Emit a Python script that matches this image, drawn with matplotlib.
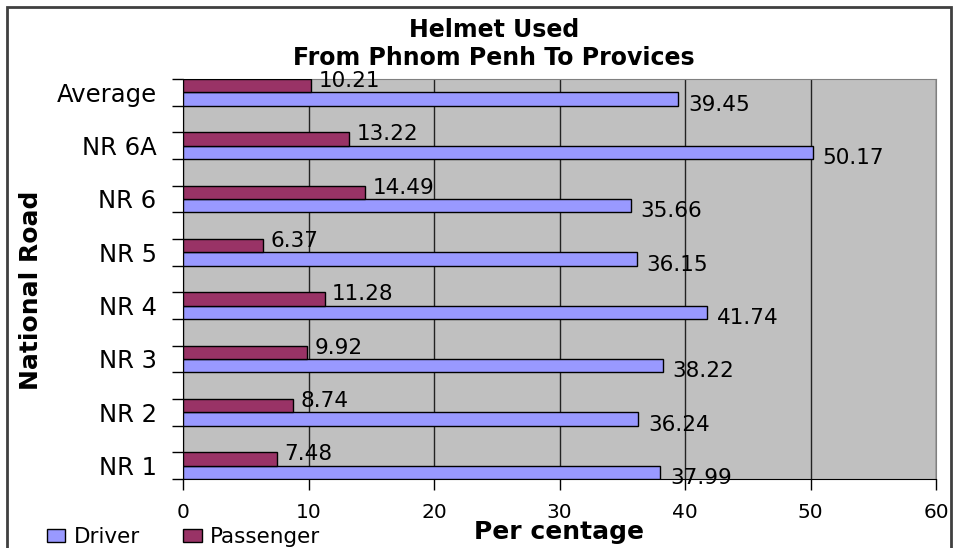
import matplotlib.pyplot as plt
from matplotlib.patches import Patch, Rectangle
import numpy as np

roads = ["NR 1", "NR 2", "NR 3", "NR 4", "NR 5", "NR 6", "NR 6A", "Average"]
driver = [37.99, 36.24, 38.22, 41.74, 36.15, 35.66, 50.17, 39.45]
passenger = [7.48, 8.74, 9.92, 11.28, 6.37, 14.49, 13.22, 10.21]

driver_color = "#9999FF"
passenger_color = "#993366"

W, H = 959, 548
fig = plt.figure(figsize=(W / 100, H / 100), dpi=100)

# outer chart frame
fig.patches.append(Rectangle((7 / W, -0.05), (951 - 7) / W, 1.05 - 7 / H,
                             transform=fig.transFigure, fill=False,
                             edgecolor="#404040", linewidth=2))

ax = fig.add_axes([183 / W, 1 - 479 / H, (936 - 183) / W, (479 - 79) / H])
ax.set_facecolor("#C0C0C0")

base = np.arange(len(roads)) * 2
ax.barh(base, driver, height=0.5, align="edge", color=driver_color,
        edgecolor="black", linewidth=1, zorder=3)
ax.barh(base + 0.5, passenger, height=0.5, align="edge", color=passenger_color,
        edgecolor="black", linewidth=1, zorder=3)

for y, d, p in zip(base, driver, passenger):
    ax.text(p + 0.6, y + 0.92, f"{p:.2f}", fontsize=15.5, va="center", ha="left", zorder=4)
    ax.text(d + 0.8, y + 0.04, f"{d:.2f}", fontsize=15.5, va="center", ha="left", zorder=4)

ax.set_xlim(0, 60)
ax.set_ylim(0, 15)
ax.set_xticks(range(0, 61, 10))
ax.tick_params(axis="x", length=8, width=1, pad=9, labelsize=14.5)

# boundary ticks without labels, road names on minor ticks
ax.set_yticks(range(0, 16))
ax.set_yticklabels([])
ax.set_yticks(base + 0.5, minor=True)
ax.set_yticklabels(roads, minor=True)
ax.tick_params(axis="y", which="major", length=8, width=1)
ax.tick_params(axis="y", which="minor", length=0, pad=19, labelsize=17.5)

ax.grid(axis="x", color="#222222", linewidth=1, zorder=1)
ax.set_axisbelow(True)
ax.spines["left"].set_color("black")
ax.spines["bottom"].set_color("black")
ax.spines["top"].set_color("#808080")
ax.spines["right"].set_color("#808080")

fig.text(494 / W, 1 - 37 / H, "Helmet Used", ha="center", va="baseline",
         fontsize=17, fontweight="bold")
fig.text(494 / W, 1 - 65 / H, "From Phnom Penh To Provices", ha="center", va="baseline",
         fontsize=17, fontweight="bold")
fig.text(31 / W, 1 - 290 / H, "National Road", rotation=90, ha="center", va="center",
         fontsize=18, fontweight="bold")
fig.text(559 / W, 1 - 539 / H, "Per centage", ha="center", va="baseline",
         fontsize=18, fontweight="bold")

handles = [Patch(facecolor=driver_color, edgecolor="black", linewidth=1),
           Patch(facecolor=passenger_color, edgecolor="black", linewidth=1)]
fig.legend(handles, ["Driver", "Passenger"], loc="center left",
           bbox_to_anchor=(47 / W, 1 - 537 / H), ncol=2, frameon=False,
           fontsize=15.5, handlelength=0.85, handleheight=0.6, handletextpad=0.4,
           columnspacing=2.0, borderpad=0, borderaxespad=0)

fig.savefig("out.png", dpi=100)
